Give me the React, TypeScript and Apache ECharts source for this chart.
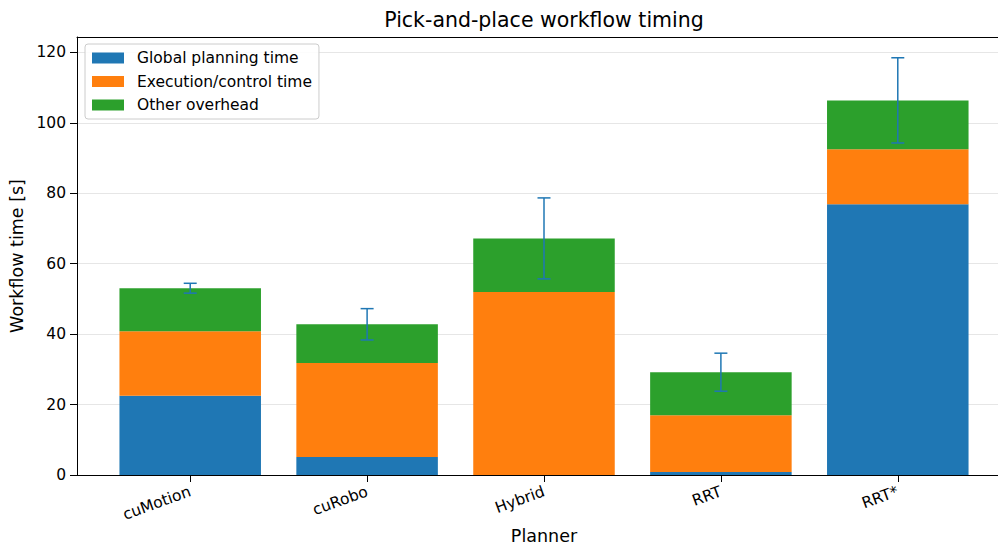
import React, { useEffect, useRef } from "react";
import * as echarts from "echarts";

// Planners and stacked time components (seconds)
const planners = ["cuMotion", "cuRobo", "Hybrid", "RRT", "RRT*"];
const globalPlanning = [22.5, 5.1, 0.0, 0.85, 76.9];
const execution = [18.35, 26.7, 52.0, 16.15, 15.6];
const overhead = [12.2, 11.0, 15.2, 12.2, 13.9];
// Standard deviation of the total workflow time
const totalStd = [1.4, 4.45, 11.5, 5.4, 12.1];
const yTicks = [0, 20, 40, 60, 80, 100, 120];

const seriesNames = ["Global planning time", "Execution/control time", "Other overhead"];
const colors = ["#1f77b4", "#ff7f0e", "#2ca02c"];

const FONT = "'DejaVu Sans', sans-serif";

export default function App() {
  const ref = useRef<HTMLDivElement>(null);

  useEffect(() => {
    document.body.style.margin = "0";
    const chart = echarts.init(ref.current!, null, { renderer: "svg" });

    // Outer frame (spines) spans a slightly wider x range than the category bands
    const frameLeft = 77;
    const gridTop = 37;
    const frameWidth = 934;
    const gridHeight = 438;
    const xPad = 0.14; // extra room on each side, in category units
    const unit = frameWidth / (planners.length + 2 * xPad);
    const bandLeft = frameLeft + xPad * unit;
    const bandWidth = unit * planners.length;
    const yMax = 124.4;

    const totals = planners.map((_, i) => globalPlanning[i] + execution[i] + overhead[i]);
    const stacks = [globalPlanning, execution, overhead];

    const barSeries = stacks.map((vals, k) => ({
      name: seriesNames[k],
      type: "bar",
      stack: "total",
      xAxisIndex: 0,
      yAxisIndex: 0,
      barWidth: "80%",
      itemStyle: { color: colors[k] },
      data: vals,
      z: 2,
    }));

    const errSeries = {
      type: "custom",
      name: "err",
      xAxisIndex: 0,
      yAxisIndex: 0,
      z: 5,
      data: planners.map((_, i) => [i, totals[i], totalStd[i]]),
      renderItem: (params: any, api: any) => {
        const x = api.value(0);
        const c = api.value(1);
        const e = api.value(2);
        const top = api.coord([x, c + e]);
        const bot = api.coord([x, c - e]);
        const cap = 6.5;
        const style = { stroke: "#1f77b4", lineWidth: 1.5 };
        return {
          type: "group",
          children: [
            { type: "line", shape: { x1: top[0], y1: top[1], x2: bot[0], y2: bot[1] }, style },
            { type: "line", shape: { x1: top[0] - cap, y1: top[1], x2: top[0] + cap, y2: top[1] }, style },
            { type: "line", shape: { x1: bot[0] - cap, y1: bot[1], x2: bot[0] + cap, y2: bot[1] }, style },
          ],
        };
      },
    };

    chart.setOption({
      animation: false,
      textStyle: { fontFamily: FONT },
      grid: [
        { left: bandLeft, top: gridTop, width: bandWidth, height: gridHeight, outerBoundsMode: "none", containLabel: false },
        { left: frameLeft, top: gridTop, width: frameWidth, height: gridHeight, outerBoundsMode: "none", containLabel: false },
      ],
      legend: {
        orient: "vertical",
        left: 85,
        top: 44,
        padding: [6, 7, 6, 7],
        itemWidth: 32,
        itemHeight: 11,
        itemGap: 7.5,
        borderColor: "#cccccc",
        borderWidth: 1,
        borderRadius: 3,
        backgroundColor: "rgba(255,255,255,0.85)",
        data: seriesNames.map((n) => ({ name: n, icon: "rect" })),
        textStyle: { fontFamily: FONT, fontSize: 15.5, color: "#000", padding: [0, 0, 0, 8] },
      },
      xAxis: [
        {
          gridIndex: 0,
          type: "category",
          data: planners,
          boundaryGap: true,
          axisLine: { show: false },
          axisTick: { show: true, alignWithLabel: true, length: 7, lineStyle: { color: "#000" } },
          axisLabel: { rotate: 20, fontFamily: FONT, fontSize: 15.5, color: "#000", margin: 16, interval: 0 },
          splitLine: { show: false },
        },
        {
          gridIndex: 1,
          type: "value",
          min: 0,
          max: 1,
          name: "Planner",
          nameLocation: "middle",
          nameGap: 52,
          nameTextStyle: { fontFamily: FONT, fontSize: 17.5, color: "#000" },
          axisLine: { show: true, onZero: false, lineStyle: { color: "#000", width: 1 } },
          axisTick: { show: false },
          axisLabel: { show: false },
          splitLine: { show: false },
        },
        {
          gridIndex: 1,
          type: "value",
          position: "top",
          min: 0,
          max: 1,
          axisLine: { show: true, onZero: false, lineStyle: { color: "#000", width: 1 } },
          axisTick: { show: false },
          axisLabel: { show: false },
          splitLine: { show: false },
        },
      ],
      yAxis: [
        {
          gridIndex: 0,
          type: "value",
          min: 0,
          max: yMax,
          show: false,
          splitLine: { show: false },
        },
        {
          gridIndex: 1,
          type: "value",
          min: 0,
          max: yMax,
          interval: 20,
          name: "Workflow time [s]",
          nameLocation: "middle",
          nameGap: 48,
          nameTextStyle: { fontFamily: FONT, fontSize: 17.5, color: "#000" },
          axisLine: { show: true, onZero: false, lineStyle: { color: "#000", width: 1 } },
          axisTick: { show: true, customValues: yTicks, length: 7, lineStyle: { color: "#000" } },
          axisLabel: { customValues: yTicks, fontFamily: FONT, fontSize: 15.5, color: "#000", margin: 11 },
          splitLine: { show: true, lineStyle: { color: "#e6e6e6", width: 1 } },
        },
      ],
      graphic: [
        {
          type: "text",
          x: 544,
          y: 20,
          style: {
            text: "Pick-and-place workflow timing",
            textAlign: "center",
            textVerticalAlign: "middle",
            font: `20.5px ${FONT}`,
            fill: "#000",
          },
        },
      ],
      series: [...barSeries, errSeries],
    });

    return () => chart.dispose();
  }, []);

  return <div ref={ref} style={{ width: 998, height: 547 }} />;
}
